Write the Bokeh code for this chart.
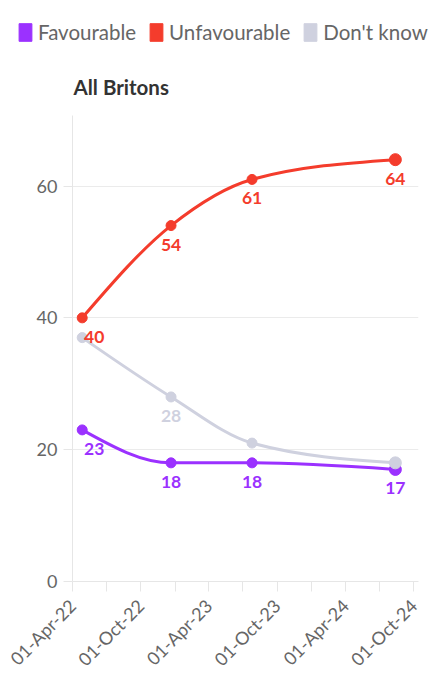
import numpy as np
import pandas as pd
from bokeh.plotting import figure
from bokeh.layouts import column
from bokeh.models import (Range1d, FixedTicker, DatetimeTickFormatter, Legend,
                          LegendItem, Label, ColumnDataSource)
from bokeh.embed import file_html
from bokeh.resources import INLINE
from bokeh.core.properties import value

# ---------------- data ----------------
dates = ["2022-04-27", "2022-12-21", "2023-07-26", "2024-08-13"]
favourable = [23, 18, 18, 17]
unfavourable = [40, 54, 61, 64]
dont_know = [37, 28, 21, 18]
series_names = ["Favourable", "Unfavourable", "Don't know"]
series_colors = ["#9b31ff", "#f43c2c", "#cfd1df"]
hidden_labels = {"Don't know": [0, 2, 3]}

major_tick_dates = ["2022-04-01", "2022-10-01", "2023-04-01", "2023-10-01",
                    "2024-04-01", "2024-10-01"]
minor_tick_dates = ["2022-07-01", "2023-01-01", "2023-07-01", "2024-01-01",
                    "2024-07-01"]
y_ticks = [0, 20, 40, 60]
x_start, x_end = "2022-04-01", "2024-10-14"
y_start, y_end = 0, 70.7
title_text = "All Britons"

FONT = "Lato"
W = 435
HEAD_H = 115
MAIN_H = 565


def to_ms(ds):
    t = pd.to_datetime(pd.Series(ds))
    return ((t - pd.Timestamp("1970-01-01")) // pd.Timedelta(milliseconds=1)).astype(float).tolist()


def monotone_tangents(xs, ys):
    xs = np.asarray(xs, float)
    ys = np.asarray(ys, float)
    n = len(xs)
    h = np.diff(xs)
    s = np.diff(ys) / h
    t = np.zeros(n)
    for i in range(1, n - 1):
        h0, h1 = h[i - 1], h[i]
        s0, s1 = s[i - 1], s[i]
        pp = (s0 * h1 + s1 * h0) / (h0 + h1)
        t[i] = (np.sign(s0) + np.sign(s1)) * min(abs(s0), abs(s1), 0.5 * abs(pp))
    t[0] = (3 * s[0] - t[1]) / 2
    t[-1] = (3 * s[-1] - t[-2]) / 2
    return t


def bezier_source(xs, ys):
    t = monotone_tangents(xs, ys)
    d = dict(x0=[], y0=[], x1=[], y1=[], cx0=[], cy0=[], cx1=[], cy1=[])
    for i in range(len(xs) - 1):
        dx = (xs[i + 1] - xs[i]) / 3.0
        d["x0"].append(xs[i]); d["y0"].append(ys[i])
        d["x1"].append(xs[i + 1]); d["y1"].append(ys[i + 1])
        d["cx0"].append(xs[i] + dx); d["cy0"].append(ys[i] + dx * t[i])
        d["cx1"].append(xs[i + 1] - dx); d["cy1"].append(ys[i + 1] - dx * t[i + 1])
    return ColumnDataSource(d)


x_ms = to_ms(dates)
xs_range = to_ms([x_start, x_end])

# ---------------- main chart ----------------
p = figure(width=W, height=MAIN_H, output_backend="svg", toolbar_location=None,
           x_axis_type="datetime", title=None,
           x_range=Range1d(xs_range[0], xs_range[1]),
           y_range=Range1d(y_start, y_end),
           min_border_left=72, min_border_right=17, min_border_bottom=99,
           min_border_top=0)
p.frame_align = False
p.background_fill_color = "white"
p.border_fill_color = "white"
p.outline_line_color = None
p.xgrid.grid_line_color = None
p.ygrid.grid_line_color = "#ebebeb"
p.ygrid.ticker = FixedTicker(ticks=y_ticks)

p.yaxis.ticker = FixedTicker(ticks=y_ticks)
p.xaxis.ticker = FixedTicker(ticks=to_ms(major_tick_dates), minor_ticks=to_ms(minor_tick_dates))
fmt = "%d-%b-%y"
p.xaxis.formatter = DatetimeTickFormatter(days=fmt, months=fmt, years=fmt)
p.xaxis.major_label_orientation = np.pi / 4
for ax in (p.xaxis[0], p.yaxis[0]):
    ax.axis_line_color = "#e6e6e6"
    ax.major_tick_line_color = "#e6e6e6"
    ax.minor_tick_line_color = "#e6e6e6"
    ax.major_tick_in = 0
    ax.minor_tick_in = 0
    ax.major_label_text_font = FONT
    ax.major_label_text_font_size = "18px"
    ax.major_label_text_color = "#666666"
p.xaxis.major_tick_out = 10
p.xaxis.minor_tick_out = 10
p.xaxis.major_label_standoff = 11
p.yaxis.major_tick_out = 9
p.yaxis.minor_tick_out = 0
p.yaxis.major_label_standoff = 6

all_values = [favourable, unfavourable, dont_know]
label_sources = []
for name, vals, col in zip(series_names, all_values, series_colors):
    p.bezier(x0="x0", y0="y0", x1="x1", y1="y1", cx0="cx0", cy0="cy0",
             cx1="cx1", cy1="cy1", source=bezier_source(x_ms, vals),
             line_color=col, line_width=3, line_cap="round")
    n = len(vals)
    sizes = [12 if i == n - 1 else 10 for i in range(n)]
    p.scatter(x=x_ms, y=vals, size=sizes, fill_color=col, line_color=col)
    keep = [i for i in range(n) if i not in hidden_labels.get(name, [])]
    label_sources.append((ColumnDataSource(dict(
        x=[x_ms[i] for i in keep], y=[vals[i] for i in keep],
        text=[str(vals[i]) for i in keep],
        xo=[12 if i == 0 else 0 for i in keep])), col))

for src, col in label_sources:
    p.text(x="x", y="y", text="text", source=src, x_offset="xo", y_offset=19,
           text_align="center", text_baseline="middle",
           text_font=value(FONT), text_font_size="17.5px", text_font_style="bold",
           text_color=col)

# ---------------- header strip: legend + title ----------------
hd = figure(width=W, height=HEAD_H, output_backend="svg", toolbar_location=None,
            x_axis_location=None, y_axis_location=None, title=None,
            x_range=Range1d(0, 1), y_range=Range1d(0, 1),
            min_border=0, min_border_left=0, min_border_right=0,
            min_border_top=0, min_border_bottom=0)
hd.frame_align = False
hd.outline_line_color = None
hd.background_fill_color = "white"
hd.border_fill_color = "white"
hd.grid.visible = False

nan = float("nan")
items = []
for name, col in zip(series_names, series_colors):
    r = hd.quad(left=[nan], right=[nan], top=[nan], bottom=[nan],
                fill_color=col, line_color=col)
    items.append(LegendItem(label=name, renderers=[r]))

legend = Legend(items=items, orientation="horizontal", location=(17, 71),
                glyph_width=16, glyph_height=22, label_standoff=5, spacing=12,
                padding=0, margin=0, border_line_color=None,
                background_fill_alpha=0, label_text_font=FONT,
                label_text_font_size="20.5px", label_text_color="#666666",
                label_height=22)
hd.add_layout(legend, "center")

hd.add_layout(Label(x=73, y=29, x_units="screen", y_units="screen",
                    text=title_text, text_font=FONT, text_font_size="20.5px",
                    text_font_style="bold", text_color="#333333",
                    text_baseline="alphabetic", text_align="left"))

layout = column(hd, p, spacing=0)
open("out.html", "w").write(file_html(layout, INLINE))
